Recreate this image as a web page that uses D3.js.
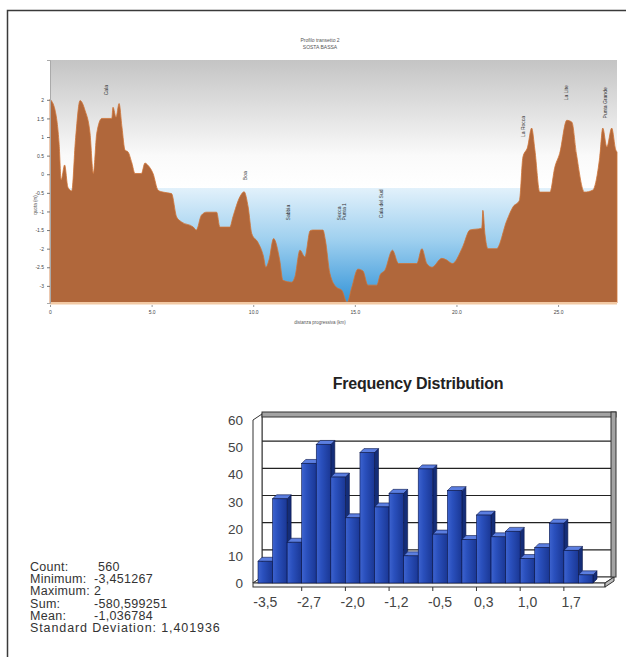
<!DOCTYPE html>
<html>
<head>
<meta charset="utf-8">
<script src="https://cdn.jsdelivr.net/npm/d3@7/dist/d3.min.js"></script>
<style>
  body { margin: 0; background: #fff; }
  text { font-family: "Liberation Sans", Arial, sans-serif; }
</style>
</head>
<body>
<svg id="chart" width="626" height="657"></svg>
<script>
// elevation profile (km, m)
const PROFILE_KM = [0.0, 0.25, 0.45, 0.55, 0.72, 0.88, 1.07, 1.25, 1.48, 1.72, 1.97, 2.13, 2.3, 2.55, 3.04, 3.1, 3.25, 3.4, 3.54, 3.69,
    3.84, 4.03, 4.18, 4.5, 4.67, 4.82, 5.07, 5.32, 5.56, 5.98, 6.23, 6.47, 7.05, 7.2, 7.45, 7.7, 8.2, 8.36, 8.85, 9.0,
    9.35, 9.55, 9.75, 9.93, 10.23, 10.5, 10.62, 10.78, 11.0, 11.3, 11.46, 11.9, 12.05, 12.3, 12.54, 12.8, 12.94, 13.43, 13.55, 13.77,
    14.1, 14.36, 14.62, 14.85, 15.15, 15.4, 15.64, 16.08, 16.25, 16.48, 16.85, 17.15, 18.05, 18.3, 18.54, 18.8, 19.28, 19.5, 19.8, 20.3,
    20.66, 21.25, 21.3, 21.4, 21.55, 21.97, 22.48, 22.78, 23.1, 23.27, 23.5, 23.7, 23.86, 24.1, 24.6, 24.84, 25.08, 25.43, 25.68, 25.9,
    26.3, 26.7, 27.05, 27.2, 27.4, 27.64, 27.84, 27.9];
const PROFILE_ELEV = [2.02, 1.72, 0.8, -0.15, 0.25, -0.35, -0.45, 0.9, 1.98, 1.72, 1.1, 0.02, 1.1, 1.5, 1.5, 1.8, 1.53, 1.9, 1.27, 0.65,
    0.6, 0.3, 0.02, 0.02, 0.3, 0.24, 0.02, -0.43, -0.48, -0.52, -1.15, -1.28, -1.42, -1.5, -1.1, -1.02, -1.02, -1.42, -1.42, -1.15,
    -0.6, -0.47, -0.88, -1.6, -1.83, -2.2, -2.5, -2.3, -1.73, -2.3, -2.85, -2.9, -2.76, -2.04, -2.22, -1.52, -1.5, -1.5, -1.77, -2.66,
    -3.04, -3.12, -3.45, -3.04, -2.55, -2.6, -2.98, -2.98, -2.7, -2.58, -2.04, -2.4, -2.4, -2.0, -2.4, -2.5, -2.26, -2.3, -2.4, -1.96,
    -1.5, -1.45, -0.97, -1.6, -2.0, -2.0, -1.24, -0.88, -0.7, 0.46, 0.73, 1.24, 0.65, -0.48, -0.48, 0.19, 0.56, 1.45, 1.4, 0.56,
    -0.48, -0.43, 0.46, 1.24, 0.73, 1.24, 0.65, 0.6];

const PROFILE_Y_TICKS = [2, 1.5, 1, 0.5, 0, -0.5, -1, -1.5, -2, -2.5, -3];
const PROFILE_X_TICKS = [0, 5, 10, 15, 20, 25];
const SEA_LEVEL = -0.37;

// place names written above the peaks (km, elevation of the label foot)
const PEAK_NAMES = [["Cala"], ["Boa"], ["Sabbia"], ["Secca", "Punta 1"], ["Cala del Sud"], ["La Rocca"], ["La Lite"], ["Punta Grande"]];
const PEAK_KM = [2.75, 9.6, 11.7, 14.35, 16.3, 23.3, 25.4, 27.3];
const PEAK_ELEV = [2.12, -0.16, -1.24, -1.24, -1.18, 1.0, 1.99, 1.5];

// frequency distribution
const FREQ_COUNTS = [8, 31, 15, 44, 51, 39, 24, 48, 28, 33, 10, 42, 18, 34, 16, 25, 17, 19, 9, 13, 22, 12, 3];
const FREQ_LABELS = ["-3,5", "-2,7", "-2,0", "-1,2", "-0,5", "0,3", "1,0", "1,7"];
const FREQ_Y_TICKS = [0, 10, 20, 30, 40, 50, 60];

const STAT_NAMES = ["Count:", "Minimum:", "Maximum:", "Sum:", "Mean:"];
const STAT_VALUES = ["560", "-3,451267", "2", "-580,599251", "-1,036784"];
const STD_DEV_TEXT = "Standard Deviation: 1,401936";


const svg = d3.select("#chart");
const defs = svg.append("defs");

svg.append("rect")
    .attr("x", 7.5).attr("y", 10.5)
    .attr("width", 640).attr("height", 670)
    .attr("fill", "none")
    .attr("stroke", "#3a3a3a")
    .attr("stroke-width", 1.5);

drawProfile();
drawHistogram();
drawStats();


function drawProfile() {
    const x = d3.scaleLinear([0, 27.9], [50, 617]);
    const y = d3.scaleLinear([-3.46, 3.07], [303, 60]);
    const seaY = y(SEA_LEVEL);

    const sky = defs.append("linearGradient")
        .attr("id", "sky").attr("x1", 0).attr("y1", 0).attr("x2", 0).attr("y2", 1);
    sky.append("stop").attr("offset", "0%").attr("stop-color", "#c4c4c4");
    sky.append("stop").attr("offset", "75%").attr("stop-color", "#fafafa");
    sky.append("stop").attr("offset", "100%").attr("stop-color", "#ffffff");

    const sea = defs.append("linearGradient")
        .attr("id", "sea").attr("x1", 0).attr("y1", 0).attr("x2", 0).attr("y2", 1);
    sea.append("stop").attr("offset", "0%").attr("stop-color", "#e2f1fb");
    sea.append("stop").attr("offset", "45%").attr("stop-color", "#9fd0ef");
    sea.append("stop").attr("offset", "100%").attr("stop-color", "#3494d8");

    svg.append("rect")
        .attr("x", x(0)).attr("y", 60)
        .attr("width", x(27.9) - x(0)).attr("height", seaY - 60)
        .attr("fill", "url(#sky)");
    svg.append("rect")
        .attr("x", x(0)).attr("y", seaY)
        .attr("width", x(27.9) - x(0)).attr("height", 303 - seaY)
        .attr("fill", "url(#sea)");

    const points = PROFILE_KM.map((km, i) => [km, PROFILE_ELEV[i]]);
    const area = d3.area()
        .x(d => x(d[0]))
        .y0(y(-3.46))
        .y1(d => y(d[1]))
        .curve(d3.curveMonotoneX);

    svg.append("path")
        .datum(points)
        .attr("d", area)
        .attr("fill", "#b0673b")
        .attr("stroke", "#cf7436")
        .attr("stroke-width", 0.8);

    // light strip under the ground
    svg.append("rect")
        .attr("x", x(0)).attr("y", 302)
        .attr("width", x(27.9) - x(0)).attr("height", 2.5)
        .attr("fill", "#f2c9a4");

    const yAxis = svg.append("g")
        .attr("transform", `translate(${x(0)},0)`)
        .call(d3.axisLeft(y).tickValues(PROFILE_Y_TICKS).tickSize(3)
            .tickFormat(d => Number.isInteger(d) ? d : d.toFixed(1)));
    yAxis.selectAll("text").attr("font-size", 5).attr("fill", "#444");
    yAxis.selectAll("line").attr("stroke", "#777");
    yAxis.select(".domain").attr("stroke", "#aaa");

    const xAxis = svg.append("g")
        .attr("transform", "translate(0,305)")
        .call(d3.axisBottom(x).tickValues(PROFILE_X_TICKS).tickSize(2)
            .tickFormat(d => d === 0 ? "0" : d.toFixed(1)));
    xAxis.selectAll("text").attr("font-size", 5).attr("fill", "#444");
    xAxis.selectAll("line").attr("stroke", "#999");
    xAxis.select(".domain").remove();

    svg.append("text")
        .attr("x", 320).attr("y", 324)
        .attr("text-anchor", "middle")
        .attr("font-size", 4.5).attr("fill", "#555")
        .text("distanza progressiva (km)");

    svg.append("text")
        .attr("transform", "translate(37,205) rotate(-90)")
        .attr("text-anchor", "middle")
        .attr("font-size", 4.5).attr("fill", "#555")
        .text("quota (m)");

    svg.append("text")
        .attr("x", 320).attr("y", 42)
        .attr("text-anchor", "middle")
        .attr("font-size", 5).attr("fill", "#555")
        .text("Profilo transetto 2");
    svg.append("text")
        .attr("x", 320).attr("y", 49)
        .attr("text-anchor", "middle")
        .attr("font-size", 5).attr("fill", "#555")
        .text("SOSTA BASSA");

    PEAK_NAMES.forEach(function (lines, i) {
        const px = x(PEAK_KM[i]);
        const py = y(PEAK_ELEV[i]);
        lines.forEach(function (line, j) {
            const off = (j - (lines.length - 1) / 2) * 5;
            svg.append("text")
                .attr("transform", `translate(${px + off + 1.8},${py}) rotate(-90)`)
                .attr("font-size", 5).attr("fill", "#333")
                .text(line);
        });
    });
}


function drawHistogram() {
    const x = d3.scaleBand(d3.range(FREQ_COUNTS.length), [258, 593]);
    const y = d3.scaleLinear([0, 60], [583, 420]);
    const wall = { dx: 9, dy: -6 };
    const bar = { dx: 4, dy: -4 };
    const left = 253, right = 605;

    svg.append("text")
        .attr("x", 418).attr("y", 389)
        .attr("text-anchor", "middle")
        .attr("font-size", 16).attr("font-weight", "bold")
        .attr("fill", "#222")
        .attr("letter-spacing", -0.2)
        .text("Frequency Distribution");

    // back wall with grid
    svg.append("rect")
        .attr("x", left + wall.dx).attr("y", y(60) + wall.dy)
        .attr("width", right - left).attr("height", y(0) - y(60))
        .attr("fill", "#fff").attr("stroke", "#333");

    svg.selectAll(".grid")
        .data(FREQ_Y_TICKS.slice(1, -1))
        .enter()
        .append("line")
        .attr("class", "grid")
        .attr("x1", left + wall.dx).attr("x2", right + wall.dx)
        .attr("y1", d => y(d) + wall.dy).attr("y2", d => y(d) + wall.dy)
        .attr("stroke", "#222").attr("stroke-width", 1.1);

    // left wall
    svg.append("polygon")
        .attr("points", [
            [left, y(60)], [left + wall.dx, y(60) + wall.dy],
            [left + wall.dx, y(0) + wall.dy], [left, y(0)]
        ].join(" "))
        .attr("fill", "#fff").attr("stroke", "#333");

    // floor
    svg.append("polygon")
        .attr("points", [
            [left, y(0)], [left + wall.dx, y(0) + wall.dy],
            [right + wall.dx, y(0) + wall.dy], [right, y(0)]
        ].join(" "))
        .attr("fill", "#fff").attr("stroke", "#333");
    svg.append("rect")
        .attr("x", left).attr("y", y(0))
        .attr("width", right - left).attr("height", 4)
        .attr("fill", "#f4f4f4").attr("stroke", "#333");
    svg.append("polygon")
        .attr("points", [
            [right, y(0)], [right + wall.dx, y(0) + wall.dy],
            [right + wall.dx, y(0) + wall.dy + 4], [right, y(0) + 4]
        ].join(" "))
        .attr("fill", "#bbb").attr("stroke", "#333");

    // top and right edges of the box
    svg.append("rect")
        .attr("x", left + wall.dx).attr("y", y(60) + wall.dy - 2)
        .attr("width", right - left + 2).attr("height", 5)
        .attr("fill", "#a3a3a3").attr("stroke", "#333");
    svg.append("rect")
        .attr("x", right + wall.dx - 3).attr("y", y(60) + wall.dy - 2)
        .attr("width", 5).attr("height", y(0) - y(60) + 2)
        .attr("fill", "#a3a3a3").attr("stroke", "#333");

    const frontGrad = defs.append("linearGradient")
        .attr("id", "barFront").attr("x1", 0).attr("y1", 0).attr("x2", 1).attr("y2", 0);
    frontGrad.append("stop").attr("offset", "0%").attr("stop-color", "#3d63cf");
    frontGrad.append("stop").attr("offset", "35%").attr("stop-color", "#2a50bd");
    frontGrad.append("stop").attr("offset", "100%").attr("stop-color", "#1a3794");

    const bars = svg.selectAll(".bar")
        .data(FREQ_COUNTS)
        .enter()
        .append("g")
        .attr("class", "bar");

    const bw = x.bandwidth();
    bars.append("polygon")
        .attr("points", (d, i) => {
            const x1 = x(i) + bw;
            return [[x1, y(d)], [x1 + bar.dx, y(d) + bar.dy],
                    [x1 + bar.dx, y(0) + bar.dy], [x1, y(0)]].join(" ");
        })
        .attr("fill", "#142d78").attr("stroke", "#0a1648").attr("stroke-width", 0.6);
    bars.append("polygon")
        .attr("points", (d, i) => {
            const x0 = x(i);
            return [[x0, y(d)], [x0 + bar.dx, y(d) + bar.dy],
                    [x0 + bw + bar.dx, y(d) + bar.dy], [x0 + bw, y(d)]].join(" ");
        })
        .attr("fill", "#5b7ee0").attr("stroke", "#0a1648").attr("stroke-width", 0.6);
    bars.append("rect")
        .attr("x", (d, i) => x(i))
        .attr("y", d => y(d))
        .attr("width", bw)
        .attr("height", d => y(0) - y(d))
        .attr("fill", "url(#barFront)")
        .attr("stroke", "#0a1648").attr("stroke-width", 0.6);

    svg.selectAll(".ylab")
        .data(FREQ_Y_TICKS)
        .enter()
        .append("text")
        .attr("class", "ylab")
        .attr("x", 243)
        .attr("y", d => y(d) + 5)
        .attr("text-anchor", "end")
        .attr("font-size", 13.5).attr("fill", "#444")
        .text(d => d);

    const step = 3;
    svg.selectAll(".xtick")
        .data(d3.range(step, FREQ_COUNTS.length, step))
        .enter()
        .append("line")
        .attr("class", "xtick")
        .attr("x1", i => x(i)).attr("x2", i => x(i))
        .attr("y1", y(0) + 4).attr("y2", y(0) + 8)
        .attr("stroke", "#333");

    svg.selectAll(".xlab")
        .data(FREQ_LABELS)
        .enter()
        .append("text")
        .attr("class", "xlab")
        .attr("x", (d, i) => x(i * step) + bw / 2)
        .attr("y", 607)
        .attr("text-anchor", "middle")
        .attr("font-size", 14).attr("fill", "#444")
        .text(d => d);
}


function drawStats() {
    const top = 571, lineH = 12.2;
    const stats = svg.append("g")
        .attr("font-size", 12.5)
        .attr("letter-spacing", 0.3)
        .attr("fill", "#333");
    STAT_NAMES.forEach(function (name, i) {
        stats.append("text")
            .attr("x", 30).attr("y", top + i * lineH)
            .text(name);
        stats.append("text")
            .attr("x", name === "Count:" ? 98 : 94).attr("y", top + i * lineH)
            .text(STAT_VALUES[i]);
    });
    stats.append("text")
        .attr("x", 30).attr("y", top + STAT_NAMES.length * lineH)
        .attr("textLength", 190)
        .attr("lengthAdjust", "spacing")
        .text(STD_DEV_TEXT);
}
</script>
</body>
</html>
